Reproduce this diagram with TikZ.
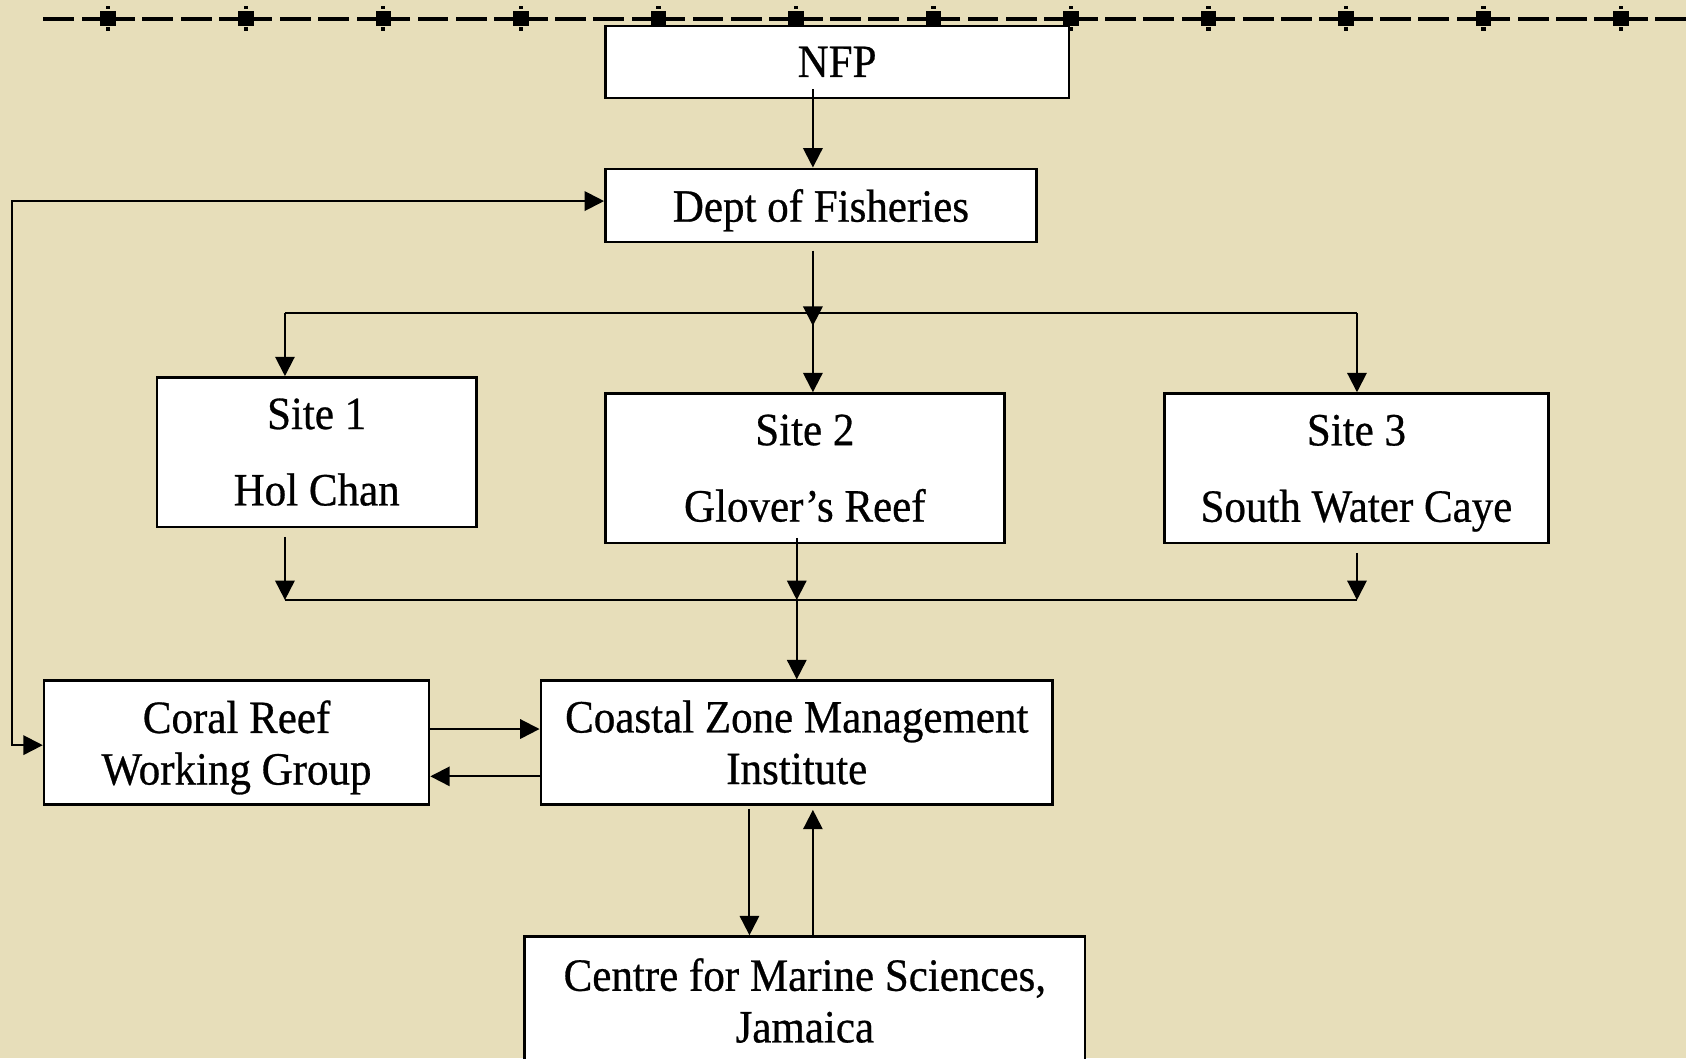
\documentclass[tikz,border=0pt]{standalone}
\usepackage{fontspec}
\setmainfont[FakeStretch=0.93,FakeBold=0.6]{Liberation Serif}
\usetikzlibrary{arrows.meta}
\definecolor{bgbeige}{RGB}{231,222,186}
\newcommand\bigfont{\fontsize{43}{48}\selectfont}
\newcommand\nodepth[1]{\raisebox{0pt}[\height][0pt]{#1}}
\tikzset{
  nbox/.style={draw=black, line width=2.4pt, fill=white, font=\bigfont, align=center, inner sep=0pt},
  conn/.style={line width=1.9pt, draw=black},
  arrw/.style={conn, -{Triangle[length=18pt,width=18pt]}},
  arrboth/.style={conn, {Triangle[length=18pt,width=18pt]}-{Triangle[length=18pt,width=18pt]}},
}
\begin{document}
\begin{tikzpicture}[x=1pt,y=-1pt]
\useasboundingbox (0,0) rectangle (1568,984);
\clip (0,0) rectangle (1568,984);
\fill[bgbeige] (0,0) rectangle (1568,984);

% top decorative dashed rule
\fill (40.2,15.55) rectangle (68.9,19.25);
\foreach \k in {0,...,11} {
  \pgfmathsetmacro\cc{100.7+127.9*\k}
  \fill (\cc-24.8,15.55) rectangle (\cc+24.8,19.25);
  \fill (\cc+31.8,15.55) rectangle (\cc+60.5,19.25);
  \fill (\cc+67.4,15.55) rectangle (\cc+96.1,19.25);
  \fill (\cc-7.25,10.2) rectangle (\cc+7.25,23.9);
  \fill (\cc-2,5.4) rectangle (\cc+2,8.7);
  \fill (\cc-2,25.4) rectangle (\cc+2,28.7);
}

% boxes
\node[nbox, minimum width=431pt, minimum height=67pt] (nfp) at (778.5,57.5) {NFP};
\node[nbox, minimum width=401pt, minimum height=68pt] (dept) at (763.5,191) {\nodepth{Dept of Fisheries}};
\node[nbox, minimum width=297pt, minimum height=139pt] (s1) at (294.5,420.5) {Site 1\\[23pt]Hol Chan};
\node[nbox, minimum width=371pt, minimum height=139pt] (s2) at (748.5,435.5) {Site 2\\[23pt]Glover’s Reef};
\node[nbox, minimum width=357pt, minimum height=139pt] (s3) at (1261.5,435.5) {Site 3\\[23pt]\nodepth{South Water Caye}};
\node[nbox, minimum width=358pt, minimum height=115pt] (crwg) at (220,690.5) {Coral Reef\\\nodepth{Working Group}};
\node[nbox, minimum width=476pt, minimum height=115pt] (czmi) at (741,690.5) {Coastal Zone Management\\Institute};
\node[nbox, minimum width=521pt, minimum height=119pt] (cms) at (748.5,930.5) {Centre for Marine Sciences,\\Jamaica};

% helper coordinates
\coordinate (xa) at (756,0);
\coordinate (x1) at (265,0);
\coordinate (x2) at (741,0);
\coordinate (x3) at (1262,0);
\coordinate (xl) at (11,0);
\coordinate (xd) at (697,0);
\coordinate (yj1) at (0,291);
\coordinate (yj2) at (0,558);
\coordinate (tipa) at (756,303);

% NFP -> Dept
\draw[arrw, shorten <=-9pt] (nfp.south -| xa) -- (dept.north -| xa);
% Dept -> junction
\draw[arrw, shorten <=7pt] (dept.south -| xa) -- (tipa);
\draw[conn] (x1 |- yj1) -- (x3 |- yj1);
\draw[arrw] (x1 |- yj1) -- (s1.north -| x1);
\draw[arrw] (xa |- yj1) -- (s2.north -| xa);
\draw[arrw] (x3 |- yj1) -- (s3.north -| x3);
% sites -> lower junction
\draw[arrw, shorten <=8pt] (s1.south -| x1) -- (x1 |- yj2);
\draw[arrw, shorten <=-6pt] (s2.south -| x2) -- (x2 |- yj2);
\draw[arrw, shorten <=8pt] (s3.south -| x3) -- (x3 |- yj2);
\draw[conn] (x1 |- yj2) -- (x3 |- yj2);
\draw[arrw] (x2 |- yj2) -- (czmi.north -| x2);
% left loop
\draw[arrboth] ([yshift=-2.5pt]crwg.west) -- ([yshift=-2.5pt]crwg.west -| xl) -- ([yshift=4pt]dept.west -| xl) -- ([yshift=4pt]dept.west);
% CRWG <-> CZMI
\draw[arrw] ([yshift=12.5pt]crwg.east) -- ([yshift=12.5pt]crwg.east -| czmi.west);
\draw[arrw] ([yshift=-31.5pt]czmi.west) -- ([yshift=-31.5pt]czmi.west -| crwg.east);
% CZMI <-> CMS
\draw[arrw, shorten <=3pt] (czmi.south -| xd) -- (cms.north -| xd);
\draw[arrw, shorten >=4pt] (cms.north -| xa) -- (czmi.south -| xa);
\end{tikzpicture}
\end{document}
